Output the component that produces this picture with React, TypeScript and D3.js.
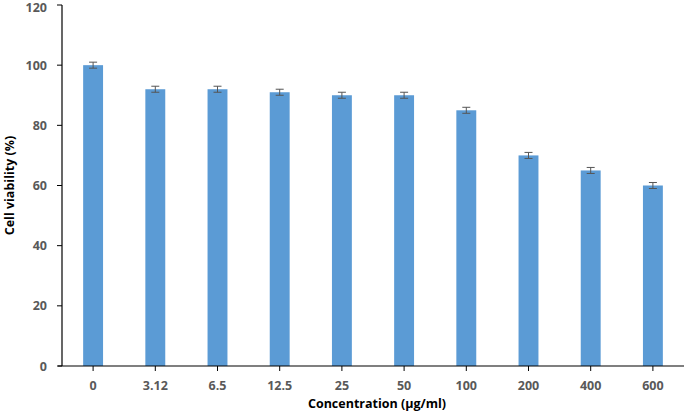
import React from "react";
import * as d3 from "d3";

const categories = ["0", "3.12", "6.5", "12.5", "25", "50", "100", "200", "400", "600"];
const values = [100, 92, 92, 91, 90, 90, 85, 70, 65, 60];
const errors = [1, 1, 1, 1, 1, 1, 1, 1, 1, 1];
const yTicks = [0, 20, 40, 60, 80, 100, 120];

export default function App() {
  const W = 686, H = 413;
  const left = 62, right = 684, top = 5, bottom = 366;
  const x = d3.scaleBand<string>().domain(categories).range([left, right]).paddingInner(0.68).paddingOuter(0.34);
  const y = d3.scaleLinear().domain([0, 120]).range([bottom, top]);
  const font = "'Open Sans', sans-serif";
  const txt = "#595959";
  return (
    <svg width={W} height={H} style={{ position: "absolute", left: 0, top: 0, background: "#fff" }}>
      {categories.map((c, i) => {
        const cx = x(c)! + x.bandwidth() / 2;
        const yv = y(values[i]);
        const ye1 = y(values[i] + errors[i]);
        const ye2 = y(values[i] - errors[i]);
        return (
          <g key={c}>
            <rect x={x(c)!} y={yv} width={x.bandwidth()} height={bottom - yv} fill="#5B9BD5" />
            <line x1={cx} x2={cx} y1={ye1} y2={ye2} stroke="#555" strokeWidth={1} />
            <line x1={cx - 4} x2={cx + 4} y1={ye1} y2={ye1} stroke="#555" strokeWidth={1} />
            <line x1={cx - 4} x2={cx + 4} y1={ye2} y2={ye2} stroke="#555" strokeWidth={1} />
            <line x1={cx} x2={cx} y1={bottom} y2={bottom + 5} stroke="#000" strokeWidth={1} />
            <text x={cx} y={bottom + 24} textAnchor="middle" fontFamily={font} fontWeight="bold" fontSize={12.5} fill={txt}>{c}</text>
          </g>
        );
      })}
      <line x1={left} x2={left} y1={top} y2={bottom} stroke="#000" strokeWidth={1.2} />
      <line x1={left - 4} x2={right} y1={bottom} y2={bottom} stroke="#000" strokeWidth={1.2} />
      {yTicks.map((t) => (
        <g key={t}>
          <line x1={left - 5} x2={left} y1={y(t)} y2={y(t)} stroke="#000" strokeWidth={1} />
          <text x={left - 15} y={Math.max(y(t) + 4.5, 12)} textAnchor="end" fontFamily={font} fontWeight="bold" fontSize={12.5} fill={txt}>{t}</text>
        </g>
      ))}
      <text x={(left + right) / 2 + 4} y={408} textAnchor="middle" fontFamily={font} fontWeight="bold" fontSize={12.5} fill="#000">Concentration (µg/ml)</text>
      <text transform={`translate(14, ${(top + bottom) / 2}) rotate(-90)`} textAnchor="middle" fontFamily={font} fontWeight="bold" fontSize={12.5} fill="#000">Cell viability (%)</text>
    </svg>
  );
}
